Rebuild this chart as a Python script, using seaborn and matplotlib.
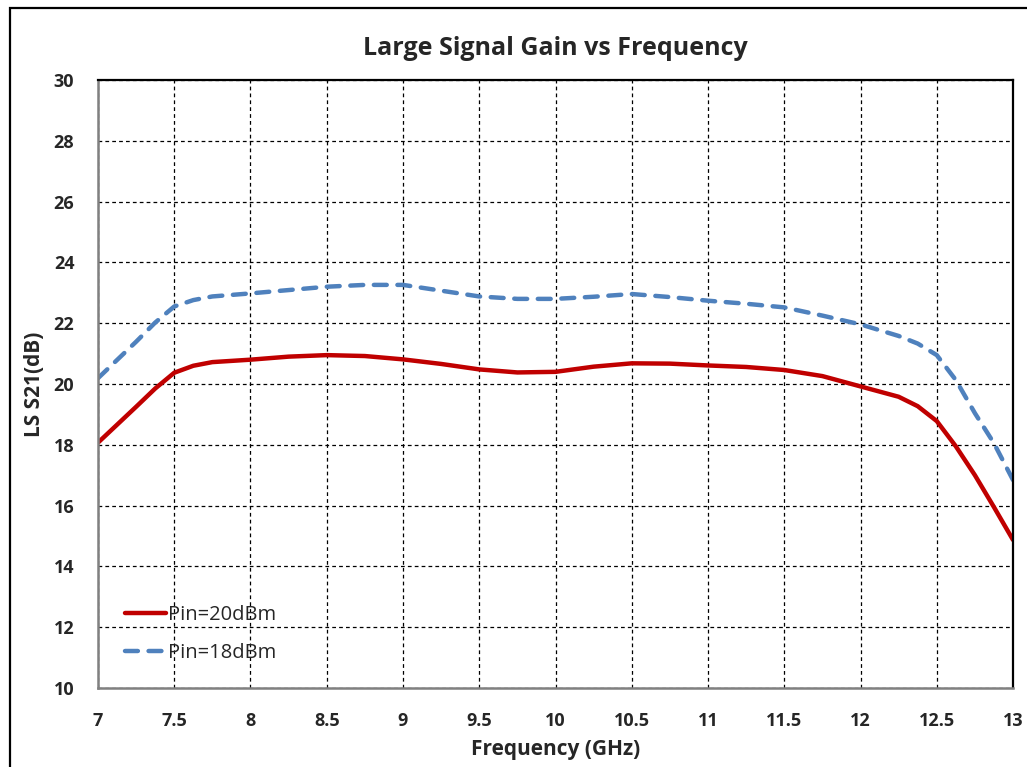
import numpy as np
import pandas as pd
import matplotlib
matplotlib.use("Agg")
import matplotlib.pyplot as plt
import matplotlib.patches as patches
import seaborn as sns

# frequency points (GHz)
freq = [7.0, 7.25, 7.375, 7.5, 7.625, 7.75, 8.0, 8.25, 8.5, 8.75, 9.0, 9.25,
        9.5, 9.75, 10.0, 10.25, 10.5, 10.75, 11.0, 11.25, 11.5, 11.75, 12.0,
        12.25, 12.375, 12.5, 12.625, 12.75, 12.875, 13.0]

# Pin=20dBm
gain_20 = [18.07, 19.25, 19.85, 20.37, 20.60, 20.72, 20.80, 20.90, 20.95, 20.92,
           20.81, 20.66, 20.48, 20.38, 20.40, 20.57, 20.68, 20.67, 20.61, 20.56,
           20.46, 20.26, 19.92, 19.58, 19.27, 18.78, 17.95, 17.00, 15.95, 14.87]

# Pin=18dBm
gain_18 = [20.19, 21.39, 22.02, 22.55, 22.76, 22.88, 22.98, 23.09, 23.20, 23.26,
           23.26, 23.07, 22.88, 22.80, 22.80, 22.87, 22.96, 22.86, 22.74, 22.64,
           22.52, 22.25, 21.96, 21.58, 21.33, 20.95, 20.13, 19.04, 18.05, 16.84]

series_names = ["Pin=20dBm", "Pin=18dBm"]
x_ticks = [7, 7.5, 8, 8.5, 9, 9.5, 10, 10.5, 11, 11.5, 12, 12.5, 13]
y_ticks = [10, 12, 14, 16, 18, 20, 22, 24, 26, 28, 30]

df = pd.DataFrame({
    "freq": freq * 2,
    "gain": gain_20 + gain_18,
    "series": [series_names[0]] * len(freq) + [series_names[1]] * len(freq),
})

sns.set_style("white")
plt.rcParams["font.family"] = ["Open Sans", "DejaVu Sans"]

fig = plt.figure(figsize=(10.27, 7.67), dpi=100)
ax = fig.add_axes([0.0954, 0.103, 0.891, 0.7927])

palette = {"Pin=20dBm": "#C00000", "Pin=18dBm": "#4F81BD"}
dashes = {"Pin=20dBm": "", "Pin=18dBm": (2.9, 2.4)}
sns.lineplot(data=df, x="freq", y="gain", hue="series", style="series",
             palette=palette, dashes=dashes, linewidth=3.2, ax=ax,
             legend=True)
for line in ax.lines:
    line.set_dash_capstyle("round")
    line.set_solid_capstyle("round")
    line.set_solid_joinstyle("round")

ax.set_xlim(7, 13)
ax.set_ylim(10, 30)
ax.set_xticks(x_ticks)
ax.set_xticklabels([f"{t:g}" for t in x_ticks])
ax.set_yticks(y_ticks)
ax.tick_params(length=0, labelsize=13)
ax.tick_params(axis="x", pad=17)
ax.tick_params(axis="y", pad=17)
for lab in ax.get_xticklabels() + ax.get_yticklabels():
    lab.set_fontweight("bold")
ax.grid(True, linestyle=(0, (3, 2.5)), color="black", linewidth=0.9)

for s in ["left", "bottom"]:
    ax.spines[s].set_color("#808080")
    ax.spines[s].set_linewidth(1.8)
for s in ["top", "right"]:
    ax.spines[s].set_color("black")
    ax.spines[s].set_linewidth(1.6)

ax.set_xlabel("Frequency (GHz)", fontsize=15, fontweight="bold", labelpad=7)
ax.set_ylabel("LS S21(dB)", fontsize=15, fontweight="bold", labelpad=6)
ax.set_title("Large Signal Gain vs Frequency", fontsize=18, fontweight="bold",
             pad=18)

handles, labels = ax.get_legend_handles_labels()
leg = ax.legend(handles, labels, loc="lower left", bbox_to_anchor=(0.01, 0.012),
                frameon=False, fontsize=14.5, handlelength=2.0, handletextpad=0.1,
                labelspacing=0.85)

fig.patches.append(patches.Rectangle((10 / 1027, -0.2), 2.0, 1.2 - 8 / 767,
                                     transform=fig.transFigure, fill=False,
                                     edgecolor="black", linewidth=1.6))

fig.savefig("out.png", dpi=100)
